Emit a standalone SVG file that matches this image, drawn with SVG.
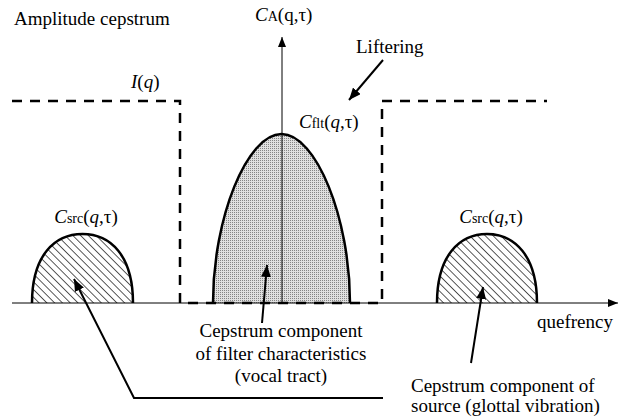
<svg xmlns="http://www.w3.org/2000/svg" width="623" height="416" viewBox="0 0 623 416">
<style>
text{font-family:"Liberation Serif","Times New Roman",serif;font-size:19px;fill:#000}
.it{font-style:italic}
.sm{font-size:14px}
.dash{fill:none;stroke:#000;stroke-width:2.5;stroke-dasharray:10 8}
.bump{stroke:#000;stroke-width:2.5}
.lead{fill:none;stroke:#000;stroke-width:2}
.axis{fill:none;stroke:#000;stroke-width:1}
</style>
<defs>
<pattern id="hatch" width="5.5" height="5.5" patternUnits="userSpaceOnUse" patternTransform="rotate(-45)">
<rect width="5.5" height="5.5" fill="#fff"/>
<line x1="0" y1="0" x2="0" y2="5.5" stroke="#000" stroke-width="1.3"/>
</pattern>
<pattern id="dots" width="2" height="2" patternUnits="userSpaceOnUse">
<rect width="2" height="2" fill="#e0e0e0"/>
<rect width="1" height="1" fill="#858585"/>
</pattern>
<marker id="ah" viewBox="0 0 12 10" refX="12" refY="5" markerWidth="12" markerHeight="10" markerUnits="userSpaceOnUse" orient="auto">
<path d="M0,0 L12,5 L0,10 z" fill="#000"/>
</marker>
<marker id="ahs" viewBox="0 0 10 8" refX="10" refY="4" markerWidth="10" markerHeight="8" markerUnits="userSpaceOnUse" orient="auto">
<path d="M0,0 L10,4 L0,8 z" fill="#000"/>
</marker>
</defs>

<g id="bumps">
<path id="src-left" class="bump" fill="url(#hatch)" d="M32,303 C32,255 55,234 82.5,234 C110,234 133,255 133,303"/>
<path id="filter" class="bump" fill="url(#dots)" d="M213,303 C213,218 247,134 281.5,134 C316,134 350,218 350,303"/>
<path id="src-right" class="bump" fill="url(#hatch)" d="M437,303 C437,255 460,234 487,234 C514,234 537,255 537,303"/>
</g>

<g id="axes">
<line class="axis" x1="12" y1="303" x2="618" y2="303" marker-end="url(#ahs)"/>
<line class="axis" x1="282" y1="303" x2="282" y2="37" stroke="#333" marker-end="url(#ahs)"/>
</g>

<g id="lifter">
<path class="dash" d="M12,101 H180 V303 H382 V101 H547"/>
</g>

<g id="connectors">
<line class="lead" x1="383" y1="60" x2="349" y2="100" marker-end="url(#ah)"/>
<line class="lead" x1="262" y1="323" x2="267" y2="265" marker-end="url(#ah)"/>
<polyline class="lead" points="383,398 134,398 74,279" marker-end="url(#ah)"/>
<line class="lead" x1="471" y1="363" x2="483" y2="287" marker-end="url(#ah)"/>
</g>

<g id="labels">
<text x="14" y="25">Amplitude cepstrum</text>
<text x="255" y="21"><tspan class="it">C</tspan><tspan class="sm">A</tspan>(q,τ)</text>
<text x="356" y="53">Liftering</text>
<text x="131" y="88"><tspan class="it">I</tspan>(<tspan class="it">q</tspan>)</text>
<text x="299" y="128"><tspan class="it">C</tspan><tspan class="sm">flt</tspan>(<tspan class="it">q</tspan>,τ)</text>
<text x="86" y="223" text-anchor="middle"><tspan class="it">C</tspan><tspan class="sm">src</tspan>(<tspan class="it">q</tspan>,τ)</text>
<text x="491" y="223" text-anchor="middle"><tspan class="it">C</tspan><tspan class="sm">src</tspan>(<tspan class="it">q</tspan>,τ)</text>
<text x="537" y="328">quefrency</text>
<text text-anchor="middle"><tspan x="281" y="337">Cepstrum component</tspan><tspan x="281" y="360">of filter characteristics</tspan><tspan x="281" y="382">(vocal tract)</tspan></text>
<text><tspan x="411" y="392">Cepstrum component of</tspan><tspan x="411" y="412">source (glottal vibration)</tspan></text>
</g>
</svg>
